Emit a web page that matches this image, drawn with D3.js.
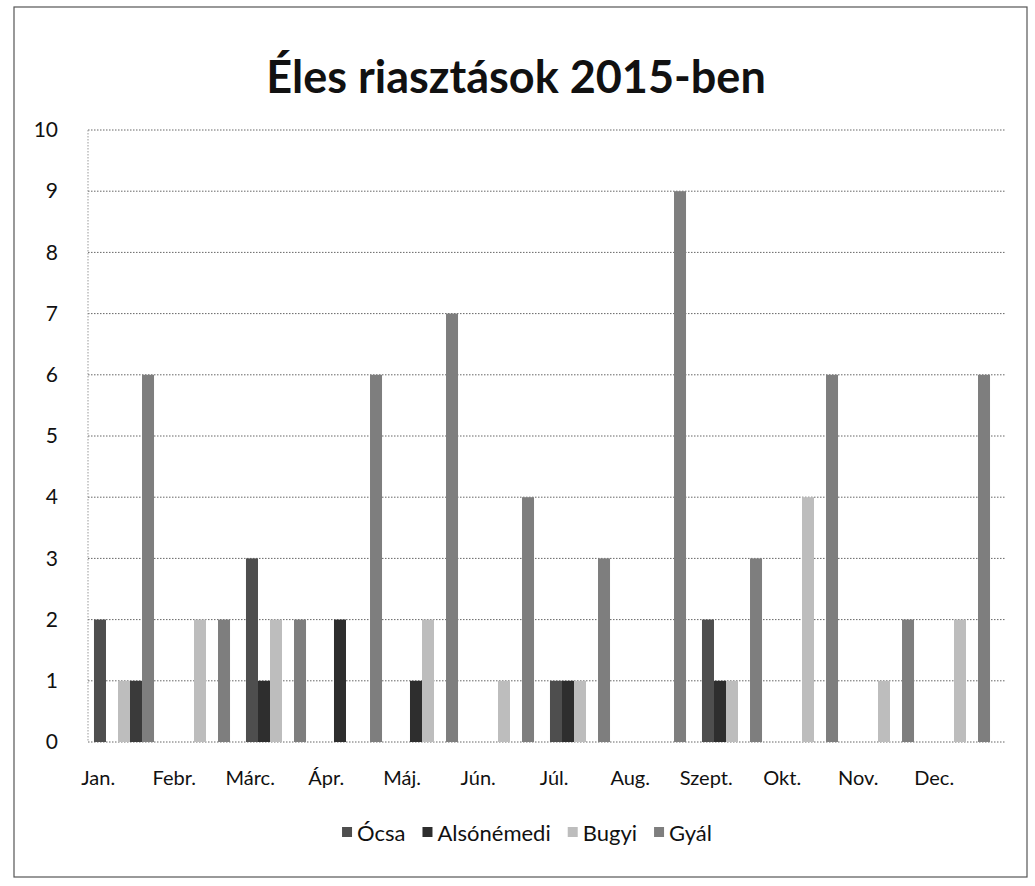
<!DOCTYPE html>
<html>
<head>
<meta charset="utf-8">
<script src="https://cdn.jsdelivr.net/npm/d3@7"></script>
<style>
  html, body { margin: 0; padding: 0; background: #fff; }
  svg { display: block; }
  text { font-family: Lato, "Open Sans", sans-serif; fill: #111; }
</style>
</head>
<body>
<svg id="chart" width="1035" height="886"></svg>
<script>
// ---- data ----
const categories = ["Jan.", "Febr.", "Márc.", "Ápr.", "Máj.", "Jún.", "Júl.", "Aug.", "Szept.", "Okt.", "Nov.", "Dec."];
const seriesNames = ["Ócsa", "Alsónémedi", "Bugyi", "", "Gyál"];
const ocsa       = [2, 0, 3, 0, 0, 0, 1, 0, 2, 0, 0, 0];
const alsonemedi = [0, 0, 1, 2, 1, 0, 1, 0, 1, 0, 0, 0];
const bugyi      = [1, 2, 2, 0, 2, 1, 1, 0, 1, 4, 1, 2];
const unnamed    = [1, 0, 0, 0, 0, 0, 0, 0, 0, 0, 0, 0];
const gyal       = [6, 2, 2, 6, 7, 4, 3, 9, 3, 6, 2, 6];
const yTicks = [0, 1, 2, 3, 4, 5, 6, 7, 8, 9, 10];
const titleText = "Éles riasztások 2015-ben";

const seriesValues = [ocsa, alsonemedi, bugyi, unnamed, gyal];
const colors = ["#4e4e4e", "#2e2e2e", "#bdbdbd", "#3a3a3a", "#7e7e7e"];

const svg = d3.select("#chart");

// outer frame
svg.append("rect").attr("x", 14).attr("y", 7).attr("width", 1013).attr("height", 870)
  .attr("fill", "none").attr("stroke", "#555").attr("stroke-width", 1.2);

// title
svg.append("text").attr("x", 516).attr("y", 93).attr("text-anchor", "middle")
  .style("font-size", "45px").style("font-weight", "bold").text(titleText);

const plotLeft = 88, plotRight = 1005;
const x = d3.scaleBand().domain(categories).range([86, 998]).paddingInner(0.21).paddingOuter(0.105);
const x1 = d3.scaleBand().domain(d3.range(seriesNames.length)).range([0, x.bandwidth()]);
const y = d3.scaleLinear().domain([0, 10]).range([742, 130]);

// gridlines
svg.append("g").selectAll("line").data(yTicks).join("line")
  .attr("x1", plotLeft).attr("x2", plotRight)
  .attr("y1", d => y(d)).attr("y2", d => y(d))
  .attr("stroke", "#666").attr("stroke-width", 1).attr("stroke-dasharray", "1.5,1.5");
// left plot border
svg.append("line").attr("x1", plotLeft).attr("x2", plotLeft).attr("y1", y(10)).attr("y2", y(0))
  .attr("stroke", "#999").attr("stroke-dasharray", "1.5,1.5");

// y labels
const yAxis = d3.axisLeft(y).tickValues(yTicks).tickSize(0).tickPadding(0).tickFormat(d3.format("d"));
const gy = svg.append("g").attr("transform", "translate(58,0)").call(yAxis);
gy.select(".domain").remove();
gy.selectAll("text").style("font-size", "21px").style("font-family", "Lato, sans-serif").attr("fill", "#111");

// bars
const groups = svg.append("g").selectAll("g").data(categories).join("g")
  .attr("transform", c => `translate(${x(c)},0)`);
groups.selectAll("rect")
  .data((c, i) => seriesValues.map((vals, s) => ({ s, v: vals[i] })))
  .join("rect")
  .attr("x", d => x1(d.s))
  .attr("width", x1.bandwidth())
  .attr("y", d => y(d.v))
  .attr("height", d => y(0) - y(d.v))
  .attr("fill", d => colors[d.s]);

// category labels
svg.append("g").selectAll("text").data(categories).join("text")
  .attr("x", c => x(c) + x.bandwidth() * 0.07)
  .attr("y", 785)
  .attr("text-anchor", "middle")
  .style("font-size", "20px")
  .text(c => c);

// legend
const legendItems = seriesNames.map((n, i) => ({ n, i })).filter(d => d.n !== "");
const lg = svg.append("g");
let cx = 0;
const gapAfter = 17, sq = 10;
legendItems.forEach(d => {
  const g = lg.append("g").attr("transform", `translate(${cx},0)`);
  g.append("rect").attr("x", 0).attr("y", -sq / 2 - 1).attr("width", sq).attr("height", sq).attr("fill", colors[d.i]);
  const t = g.append("text").attr("x", sq + 5).attr("y", 0).attr("dy", "0.35em")
    .style("font-size", "22px").text(d.n);
  cx += sq + 5 + t.node().getComputedTextLength() + gapAfter;
});
const totalW = cx - gapAfter;
lg.attr("transform", `translate(${527 - totalW / 2},833)`);
</script>
</body>
</html>
